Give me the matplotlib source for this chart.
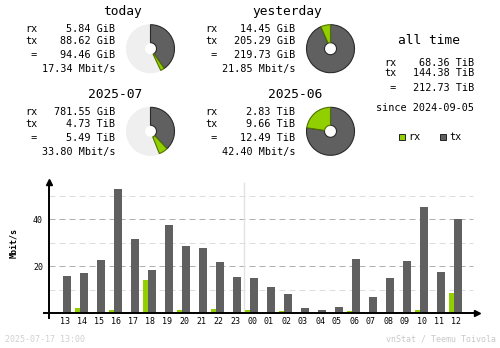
import numpy as np
import matplotlib
matplotlib.use('Agg')
import matplotlib.pyplot as plt
from matplotlib.patches import Rectangle

# hourly traffic, Mbit/s
hours = ['13', '14', '15', '16', '17', '18', '19', '20', '21', '22', '23', '00',
         '01', '02', '03', '04', '05', '06', '07', '08', '09', '10', '11', '12']
rx_mbit = [0.4, 2.1, 0.4, 1.3, 0.4, 14.0, 0.4, 1.3, 0.4, 1.7, 0.0, 1.3,
           0.0, 0.85, 0.0, 0.0, 0.0, 0.85, 0.0, 0.4, 0.4, 1.3, 0.4, 8.5]
tx_mbit = [15.7, 17.0, 22.6, 52.8, 31.5, 18.3, 37.4, 28.5, 27.7, 21.7, 15.3, 14.9,
           11.1, 8.1, 2.1, 1.3, 2.6, 23.0, 6.8, 14.9, 22.1, 45.1, 17.4, 40.0]

# summary blocks
periods = ['today', 'yesterday', '2025-07', '2025-06']
period_rx = ['5.84 GiB', '14.45 GiB', '781.55 GiB', '2.83 TiB']
period_tx = ['88.62 GiB', '205.29 GiB', '4.73 TiB', '9.66 TiB']
period_total = ['94.46 GiB', '219.73 GiB', '5.49 TiB', '12.49 TiB']
period_rate = ['17.34 Mbit/s', '21.85 Mbit/s', '33.80 Mbit/s', '42.40 Mbit/s']
# which period each pie is scaled against (None = full circle)
pie_ref = [1, None, 3, None]

alltime_rx = '68.36 TiB'
alltime_tx = '144.38 TiB'
alltime_total = '212.73 TiB'
since = 'since 2024-09-05'
stamp = '2025-07-17 13:00'

C_RX = '#92CF00'
C_TX = '#606060'
C_RX_EDGE = '#4f7000'
C_TX_EDGE = '#2a2a2a'
C_LIGHT = '#efefef'
MONO = 'DejaVu Sans Mono'

W, H = 500, 348
fig = plt.figure(figsize=(W / 100, H / 100), dpi=100)
bg = fig.add_axes([0, 0, 1, 1])
bg.set_xlim(0, W)
bg.set_ylim(H, 0)
bg.axis('off')


def rect(x0, y0, w, h):
    return [x0 / W, 1 - (y0 + h) / H, w / W, h / H]


def to_gib(s):
    v, unit = s.split()
    return float(v) * (1024 if unit == 'TiB' else 1)


# ---- summary text + pies ----
for i, name in enumerate(periods):
    dx = 180 * (i % 2)
    dy = 82.6 * (i // 2)
    bg.text(142 + dx, 12 + dy, name, family=MONO, fontsize=9.3, ha='right', va='center')
    bg.text(25 + dx, 29.3 + dy, 'rx', family=MONO, fontsize=7.3, va='center')
    bg.text(25 + dx, 41.3 + dy, 'tx', family=MONO, fontsize=7.3, va='center')
    bg.text(25 + dx, 55 + dy, ' =', family=MONO, fontsize=7.3, va='center')
    bg.text(115 + dx, 29.3 + dy, period_rx[i], family=MONO, fontsize=7.3, ha='right', va='center')
    bg.text(115 + dx, 41.3 + dy, period_tx[i], family=MONO, fontsize=7.3, ha='right', va='center')
    bg.text(115 + dx, 55 + dy, period_total[i], family=MONO, fontsize=7.3, ha='right', va='center')
    bg.text(115 + dx, 69 + dy, period_rate[i], family=MONO, fontsize=7.3, ha='right', va='center')

    rx = to_gib(period_rx[i])
    tx = to_gib(period_tx[i])
    if pie_ref[i] is None:
        ref = rx + tx
    else:
        ref = to_gib(period_total[pie_ref[i]])
    rest = max(ref - rx - tx, 0)

    cx, cy, r = 150.5 + dx, 48.7 + dy, 24
    s = r * 1.05
    pax = fig.add_axes(rect(cx - s, cy - s, 2 * s, 2 * s))
    wedges, _ = pax.pie([tx, rx, rest], colors=[C_TX, C_RX, C_LIGHT],
                        startangle=90, counterclock=False,
                        wedgeprops=dict(width=0.75, linewidth=0.8))
    wedges[0].set_edgecolor(C_TX_EDGE)
    wedges[1].set_edgecolor(C_RX_EDGE)
    wedges[2].set_edgecolor(C_LIGHT)
    wedges[2].set_zorder(0)
    pax.set_xlim(-1.05, 1.05)
    pax.set_ylim(-1.05, 1.05)

# ---- all time block ----
bg.text(428.5, 40, 'all time', family=MONO, fontsize=9.3, ha='center', va='center')
bg.text(384, 62.7, 'rx', family=MONO, fontsize=7.3, va='center')
bg.text(384, 73.3, 'tx', family=MONO, fontsize=7.3, va='center')
bg.text(384, 88.3, ' =', family=MONO, fontsize=7.3, va='center')
bg.text(474.5, 62.7, alltime_rx, family=MONO, fontsize=7.3, ha='right', va='center')
bg.text(474.5, 73.3, alltime_tx, family=MONO, fontsize=7.3, ha='right', va='center')
bg.text(474.5, 88.3, alltime_total, family=MONO, fontsize=7.3, ha='right', va='center')
bg.text(474.5, 108.3, since, family=MONO, fontsize=7.3, ha='right', va='center')

bg.add_patch(Rectangle((399, 133.5), 6, 6, facecolor=C_RX, edgecolor='#222222', lw=0.7))
bg.text(408.5, 136.5, 'rx', family=MONO, fontsize=7.3, va='center')
bg.add_patch(Rectangle((440, 133.5), 6, 6, facecolor=C_TX, edgecolor='#222222', lw=0.7))
bg.text(449.5, 136.5, 'tx', family=MONO, fontsize=7.3, va='center')

# ---- hourly bar chart ----
X0, SLOT, Y0, YS = 65, 17, 313, 2.35   # pixel geometry of the plot
left_px, right_px, top_px = 48.5, 480, 178
ax = fig.add_axes(rect(left_px, top_px, right_px - left_px, Y0 - top_px))
ax.set_xlim((left_px - X0) / SLOT, (right_px - X0) / SLOT)
ax.set_ylim(0, (Y0 - top_px) / YS)
for sp in ax.spines.values():
    sp.set_visible(False)

x = np.arange(len(hours))
ax.bar(x - 7 / SLOT, rx_mbit, width=5 / SLOT, align='edge', color=C_RX, zorder=3)
ax.bar(x - 2 / SLOT, tx_mbit, width=8 / SLOT, align='edge', color=C_TX, zorder=3)

grid_end = (473 - X0) / SLOT
for yv in [10, 30, 50]:
    ax.plot([ax.get_xlim()[0], grid_end], [yv, yv], color='#dddddd', lw=0.72,
            dashes=(6, 4), zorder=1)
for yv in [20, 40]:
    ax.plot([ax.get_xlim()[0], grid_end], [yv, yv], color='#b0b0b0', lw=0.72,
            dashes=(6, 4), zorder=1)
# day boundary
ax.plot([10.5, 10.5], [0, (Y0 - 183) / YS], color='#e2e2e2', lw=1.0, zorder=1)

# axis lines with arrows
xa0 = (44 - X0) / SLOT
xa1 = (477 - X0) / SLOT
ya = (left_px - X0) / SLOT
ax.plot([xa0, xa1], [0, 0], color='black', lw=1.4, clip_on=False, zorder=5)
ax.plot([ya, ya], [-4.5 / YS, (Y0 - 182) / YS], color='black', lw=1.4, clip_on=False, zorder=5)
ax.plot([xa1], [0], marker='>', color='black', ms=4, clip_on=False, zorder=5)
ax.plot([ya], [(Y0 - 182) / YS], marker='^', color='black', ms=4, clip_on=False, zorder=5)

ax.set_xticks(x)
ax.set_xticklabels(hours, family=MONO, fontsize=6)
ax.set_yticks([20, 40])
ax.set_yticklabels(['20', '40'], family=MONO, fontsize=6)
ax.tick_params(length=0, pad=3.2)
ax.tick_params(axis='y', pad=4)

bg.text(14, 243, 'Mbit/s', family=MONO, fontsize=6, fontweight='bold',
        rotation=90, ha='center', va='center')

# footer
bg.text(5, 339, stamp, family=MONO, fontsize=6, color='#d0d0d0', va='center')
bg.text(496, 339, 'vnStat / Teemu Toivola', family=MONO, fontsize=6,
        color='#c8c8c8', ha='right', va='center')

fig.savefig('out.png', dpi=100)
